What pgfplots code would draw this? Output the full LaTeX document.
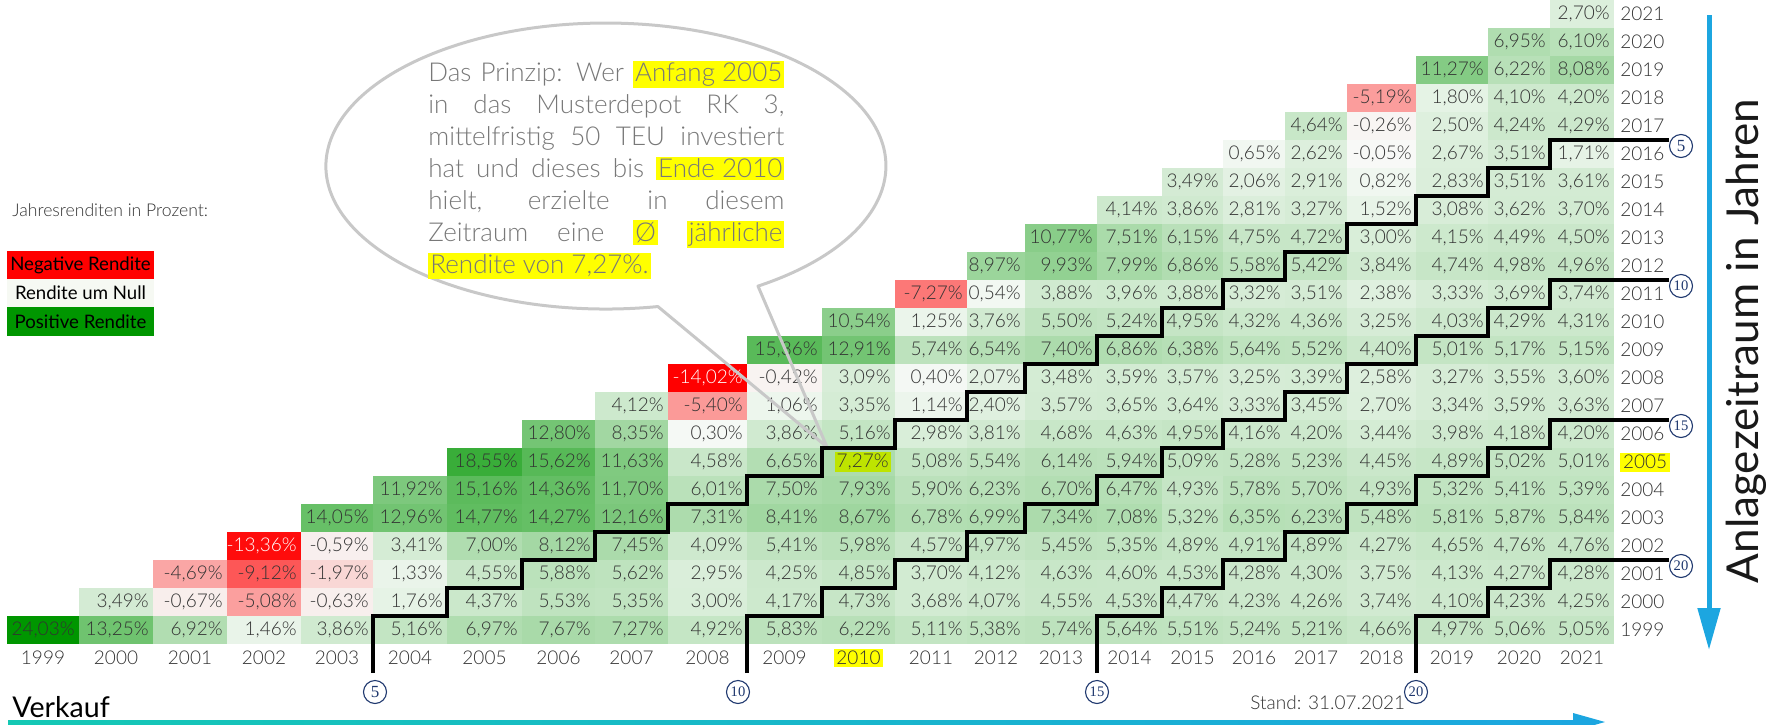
\documentclass[border=0pt]{standalone}
\usepackage{pgfplots}
\pgfplotsset{compat=1.18}
\usepackage{pgfplotstable}
\usepackage{fontspec}
\setmainfont{Lato}
\IfFontExistsTF{Lato Light}{\newfontfamily\lightfont{Lato Light}}{\newfontfamily\lightfont{Lato}}
\newfontfamily\libserif{Liberation Serif}
\usetikzlibrary{arrows.meta}
\definecolor{celltext}{RGB}{50,50,50}
\definecolor{labtext}{RGB}{50,50,50}
\definecolor{bubgray}{RGB}{200,200,200}
\definecolor{bubtext}{RGB}{120,120,120}
\definecolor{hlyellow}{RGB}{255,255,0}
\definecolor{hllime}{RGB}{190,228,0}
\definecolor{navy}{RGB}{31,56,110}
\definecolor{arrowblue}{RGB}{28,166,224}
\definecolor{teal1}{RGB}{20,200,180}
\definecolor{legred}{RGB}{255,0,0}
\definecolor{legwhite}{RGB}{246,249,243}
\definecolor{leggreen}{RGB}{0,150,0}
\definecolor{cmid}{RGB}{248,250,248}
\definecolor{cgreen}{RGB}{0,150,0}

% rows = year of purchase (B); columns s0..s22 = year of sale 1999..2021
\pgfplotstableread{
B s0 s1 s2 s3 s4 s5 s6 s7 s8 s9 s10 s11 s12 s13 s14 s15 s16 s17 s18 s19 s20 s21 s22
1999 24.03 13.25 6.92 1.46 3.86 5.16 6.97 7.67 7.27 4.92 5.83 6.22 5.11 5.38 5.74 5.64 5.51 5.24 5.21 4.66 4.97 5.06 5.05
2000 nan 3.49 -0.67 -5.08 -0.63 1.76 4.37 5.53 5.35 3.00 4.17 4.73 3.68 4.07 4.55 4.53 4.47 4.23 4.26 3.74 4.10 4.23 4.25
2001 nan nan -4.69 -9.12 -1.97 1.33 4.55 5.88 5.62 2.95 4.25 4.85 3.70 4.12 4.63 4.60 4.53 4.28 4.30 3.75 4.13 4.27 4.28
2002 nan nan nan -13.36 -0.59 3.41 7.00 8.12 7.45 4.09 5.41 5.98 4.57 4.97 5.45 5.35 4.89 4.91 4.89 4.27 4.65 4.76 4.76
2003 nan nan nan nan 14.05 12.96 14.77 14.27 12.16 7.31 8.41 8.67 6.78 6.99 7.34 7.08 5.32 6.35 6.23 5.48 5.81 5.87 5.84
2004 nan nan nan nan nan 11.92 15.16 14.36 11.70 6.01 7.50 7.93 5.90 6.23 6.70 6.47 4.93 5.78 5.70 4.93 5.32 5.41 5.39
2005 nan nan nan nan nan nan 18.55 15.62 11.63 4.58 6.65 7.27 5.08 5.54 6.14 5.94 5.09 5.28 5.23 4.45 4.89 5.02 5.01
2006 nan nan nan nan nan nan nan 12.80 8.35 0.30 3.86 5.16 2.98 3.81 4.68 4.63 4.95 4.16 4.20 3.44 3.98 4.18 4.20
2007 nan nan nan nan nan nan nan nan 4.12 -5.40 1.06 3.35 1.14 2.40 3.57 3.65 3.64 3.33 3.45 2.70 3.34 3.59 3.63
2008 nan nan nan nan nan nan nan nan nan -14.02 -0.42 3.09 0.40 2.07 3.48 3.59 3.57 3.25 3.39 2.58 3.27 3.55 3.60
2009 nan nan nan nan nan nan nan nan nan nan 15.36 12.91 5.74 6.54 7.40 6.86 6.38 5.64 5.52 4.40 5.01 5.17 5.15
2010 nan nan nan nan nan nan nan nan nan nan nan 10.54 1.25 3.76 5.50 5.24 4.95 4.32 4.36 3.25 4.03 4.29 4.31
2011 nan nan nan nan nan nan nan nan nan nan nan nan -7.27 0.54 3.88 3.96 3.88 3.32 3.51 2.38 3.33 3.69 3.74
2012 nan nan nan nan nan nan nan nan nan nan nan nan nan 8.97 9.93 7.99 6.86 5.58 5.42 3.84 4.74 4.98 4.96
2013 nan nan nan nan nan nan nan nan nan nan nan nan nan nan 10.77 7.51 6.15 4.75 4.72 3.00 4.15 4.49 4.50
2014 nan nan nan nan nan nan nan nan nan nan nan nan nan nan nan 4.14 3.86 2.81 3.27 1.52 3.08 3.62 3.70
2015 nan nan nan nan nan nan nan nan nan nan nan nan nan nan nan nan 3.49 2.06 2.91 0.82 2.83 3.51 3.61
2016 nan nan nan nan nan nan nan nan nan nan nan nan nan nan nan nan nan 0.65 2.62 -0.05 2.67 3.51 1.71
2017 nan nan nan nan nan nan nan nan nan nan nan nan nan nan nan nan nan nan 4.64 -0.26 2.50 4.24 4.29
2018 nan nan nan nan nan nan nan nan nan nan nan nan nan nan nan nan nan nan nan -5.19 1.80 4.10 4.20
2019 nan nan nan nan nan nan nan nan nan nan nan nan nan nan nan nan nan nan nan nan 11.27 6.22 8.08
2020 nan nan nan nan nan nan nan nan nan nan nan nan nan nan nan nan nan nan nan nan nan 6.95 6.10
2021 nan nan nan nan nan nan nan nan nan nan nan nan nan nan nan nan nan nan nan nan nan nan 2.70
}\returns

% cell: half width = mark size, height 14pt; colour: red (-14.02) - near white (0) - green (24.03)
\makeatletter
\pgfdeclareplotmark{cellbox}{%
  \pgfmathprintnumberto[fixed,fixed zerofill,precision=2,use period,1000 sep={},assume math mode=true]{\pgfplotspointmeta}{\mv}%
  \ifdim\mv pt<0pt
    \dimen@=-\mv pt\relax
    \dimen@=\dimexpr\dimen@*10000/1402\relax
    \ifdim\dimen@>100pt \dimen@=100pt\fi
    \edef\pp{\strip@pt\dimen@}%
    \colorlet{cellc}{legred!\pp!cmid}%
  \else
    \dimen@=\mv pt\relax
    \dimen@=\dimexpr\dimen@*10000/2403\relax
    \ifdim\dimen@>100pt \dimen@=100pt\fi
    \edef\pp{\strip@pt\dimen@}%
    \colorlet{cellc}{cgreen!\pp!cmid}%
  \fi
  \pgfsetfillcolor{cellc}%
  \pgfpathrectangle{\pgfpoint{-\pgfplotmarksize-0.2pt}{-7.2pt}}{\pgfpoint{2\pgfplotmarksize+0.4pt}{14.4pt}}%
  \pgfusepathqfill}
\makeatother

\newcommand{\fmtv}{\pgfmathprintnumber[fixed,fixed zerofill,precision=2,use comma,assume math mode=true]{\val}\%}
\newcommand{\cellnum}[1]{%
  \pgfmathprintnumberto[fixed,fixed zerofill,precision=2,use period,1000 sep={},assume math mode=true]{\pgfplotspointmeta}{\val}%
  \ifdim\val pt<-12pt\relax
    \textcolor{white}{\fmtv}%
  \else
    \ifdim\val pt=7.27pt\relax
      \ifnum#1=2010\relax
        {\setlength{\fboxsep}{1pt}\colorbox{hllime}{\fmtv}}%
      \else\fmtv\fi
    \else\fmtv\fi
  \fi}
\newcommand{\hl}[1]{{\setlength{\fboxsep}{1pt}\colorbox{hlyellow}{#1}}}
\newcommand{\hlt}[1]{{\setlength{\fboxsep}{1.3pt}\colorbox{hlyellow}{#1}}}
\newcommand{\circnum}[3]{\node[circle, draw=navy, line width=0.55pt, inner sep=0pt, minimum size=11.5pt, text=navy, font=\libserif\fontsize{#3}{#3}\selectfont] at (#1) {#2};}

\pgfplotsset{
  cellplot/.style 2 args={
    scatter, only marks, mark=cellbox, mark size=#1pt, point meta=explicit,
    scatter/use mapped color={draw=none},
    nodes near coords={\cellnum{#2}},
    every node near coord/.append style={anchor=east, xshift=#1pt-2pt, inner sep=0pt,
      font=\lightfont\fontsize{9.5}{10}\selectfont, text=celltext},
  },
  stair/.style={const plot, mark=none, line width=2pt, black, on layer=axis foreground},
}

\begin{document}
\begin{tikzpicture}
\begin{axis}[
  at={(0,0)}, anchor=north west,
  set layers,
  scale only axis, width=884.5pt, height=362pt,
  xmin=0, xmax=1769, ymin=1995.642857, ymax=2021.5,
  clip=false,
  axis line style={draw=none},
  major tick length=0pt, tick style={draw=none},
  xtick={43,116,190,264,337,410,484.5,558.5,631.5,707.5,784.5,858.5,931,996,1061,1129.5,1192.5,1254,1316,1381.5,1452,1519,1582},
  xticklabels={1999,2000,2001,2002,2003,2004,2005,2006,2007,2008,2009,{\hlt{2010}},2011,2012,2013,2014,2015,2016,2017,2018,2019,2020,2021},
  ytick={1999,...,2021},
  yticklabels={1999,2000,2001,2002,2003,2004,{\hlt{2005}},2006,2007,2008,2009,2010,2011,2012,2013,2014,2015,2016,2017,2018,2019,2020,2021},
  yticklabel pos=right,
  xticklabel style={anchor=center, yshift=33pt, inner sep=0pt},
  yticklabel style={anchor=west, xshift=-74.5pt, inner sep=0pt},
  tick label style={font=\lightfont\fontsize{9.5}{10}\selectfont, text=labtext},
  point meta min=-14.02, point meta max=24.03,
]
% one column per year of sale: half width (pt), year of sale
\addplot[cellplot={18}{1999},    skip coords between index={1}{23}]  table[x expr=43,     y=B, meta=s0]  {\returns};
\addplot[cellplot={18.5}{2000},  skip coords between index={2}{23}]  table[x expr=116,    y=B, meta=s1]  {\returns};
\addplot[cellplot={18.5}{2001},  skip coords between index={3}{23}]  table[x expr=190,    y=B, meta=s2]  {\returns};
\addplot[cellplot={18.5}{2002},  skip coords between index={4}{23}]  table[x expr=264,    y=B, meta=s3]  {\returns};
\addplot[cellplot={18}{2003},    skip coords between index={5}{23}]  table[x expr=337,    y=B, meta=s4]  {\returns};
\addplot[cellplot={18.5}{2004},  skip coords between index={6}{23}]  table[x expr=410,    y=B, meta=s5]  {\returns};
\addplot[cellplot={18.75}{2005}, skip coords between index={7}{23}]  table[x expr=484.5,  y=B, meta=s6]  {\returns};
\addplot[cellplot={18.25}{2006}, skip coords between index={8}{23}]  table[x expr=558.5,  y=B, meta=s7]  {\returns};
\addplot[cellplot={18.25}{2007}, skip coords between index={9}{23}]  table[x expr=631.5,  y=B, meta=s8]  {\returns};
\addplot[cellplot={19.75}{2008}, skip coords between index={10}{23}] table[x expr=707.5,  y=B, meta=s9]  {\returns};
\addplot[cellplot={18.75}{2009}, skip coords between index={11}{23}] table[x expr=784.5,  y=B, meta=s10] {\returns};
\addplot[cellplot={18.25}{2010}, skip coords between index={12}{23}] table[x expr=858.5,  y=B, meta=s11] {\returns};
\addplot[cellplot={18}{2011},    skip coords between index={13}{23}] table[x expr=931,    y=B, meta=s12] {\returns};
\addplot[cellplot={14.5}{2012},  skip coords between index={14}{23}] table[x expr=996,    y=B, meta=s13] {\returns};
\addplot[cellplot={18}{2013},    skip coords between index={15}{23}] table[x expr=1061,   y=B, meta=s14] {\returns};
\addplot[cellplot={16.25}{2014}, skip coords between index={16}{23}] table[x expr=1129.5, y=B, meta=s15] {\returns};
\addplot[cellplot={15.25}{2015}, skip coords between index={17}{23}] table[x expr=1192.5, y=B, meta=s16] {\returns};
\addplot[cellplot={15.5}{2016},  skip coords between index={18}{23}] table[x expr=1254,   y=B, meta=s17] {\returns};
\addplot[cellplot={15.5}{2017},  skip coords between index={19}{23}] table[x expr=1316,   y=B, meta=s18] {\returns};
\addplot[cellplot={17.25}{2018}, skip coords between index={20}{23}] table[x expr=1381.5, y=B, meta=s19] {\returns};
\addplot[cellplot={18}{2019},    skip coords between index={21}{23}] table[x expr=1452,   y=B, meta=s20] {\returns};
\addplot[cellplot={15.5}{2020},  skip coords between index={22}{23}] table[x expr=1519,   y=B, meta=s21] {\returns};
\addplot[cellplot={16}{2021},    skip coords between index={23}{23}] table[x expr=1582,   y=B, meta=s22] {\returns};
% holding period borders: 5, 10, 15, 20 years
\addplot[stair] coordinates {(373,1997.464) (373,1999.5) (447,2000.5) (522,2001.5) (595,2002.5) (668,2003.5) (747,2004.5) (822,2005.5) (895,2006.5) (967,2007.5) (1025,2008.5) (1097,2009.5) (1162,2010.5) (1223,2011.5) (1285,2012.5) (1347,2013.5) (1416,2014.5) (1488,2015.5) (1550,2016.5) (1669,2016.5)};
\addplot[stair] coordinates {(747,1997.464) (747,1999.5) (822,2000.5) (895,2001.5) (967,2002.5) (1025,2003.5) (1097,2004.5) (1162,2005.5) (1223,2006.5) (1285,2007.5) (1347,2008.5) (1416,2009.5) (1488,2010.5) (1550,2011.5) (1669,2011.5)};
\addplot[stair] coordinates {(1097,1997.464) (1097,1999.5) (1162,2000.5) (1223,2001.5) (1285,2002.5) (1347,2003.5) (1416,2004.5) (1488,2005.5) (1550,2006.5) (1669,2006.5)};
\addplot[stair] coordinates {(1416,1997.464) (1416,1999.5) (1488,2000.5) (1550,2001.5) (1669,2001.5)};
\end{axis}

\begin{scope}[x=0.5pt, y=-0.5pt]
% legend
\node[anchor=west, inner sep=0pt, font=\lightfont\fontsize{8.8}{10}\selectfont, text=labtext] at (12,210) {Jahresrenditen in Prozent:};
\fill[legred] (7,251) rectangle (154,279);
\fill[legwhite] (7,279) rectangle (154,307);
\fill[leggreen] (7,307) rectangle (154,336);
\node[font=\fontsize{9.3}{10}\selectfont] at (80.5,265) {Negative Rendite};
\node[font=\fontsize{9.3}{10}\selectfont] at (80.5,293) {Rendite um Null};
\node[font=\fontsize{9.3}{10}\selectfont] at (80.5,321.5) {Positive Rendite};
% speech bubble
\draw[bubgray, line width=1.5pt, line join=round] (758,286.1) arc[start angle=57.1, end angle=-280.7, x radius=280, y radius=143] -- (827,447) -- cycle;
\begin{scope}[every node/.style={anchor=base west, inner sep=0pt, font=\lightfont\fontsize{13}{16}\selectfont, text=bubtext}]
\node at (428,81.5) {\makebox[178pt][s]{Das Prinzip: Wer \hl{Anfang 2005}}};
\node at (428,113.5) {\makebox[178pt][s]{in das Musterdepot RK 3,}};
\node at (428,145.5) {\makebox[178pt][s]{mittelfristig 50 TEU investiert}};
\node at (428,177.5) {\makebox[178pt][s]{hat und dieses bis \hl{Ende 2010}}};
\node at (428,209.5) {\makebox[178pt][s]{hielt, erzielte in diesem}};
\node at (428,241.5) {\makebox[178pt][s]{Zeitraum eine \hl{Ø} \hl{jährliche}}};
\node at (428,273.5) {\hl{Rendite von 7,27\%.}};
\end{scope}
% circled period markers
\circnum{375,692}{5}{8.5}
\circnum{738,692}{\kern-0.3pt 10\kern-0.3pt}{7.3}
\circnum{1097,692}{\kern-0.3pt 15\kern-0.3pt}{7.3}
\circnum{1416,692}{\kern-0.3pt 20\kern-0.3pt}{7.3}
\circnum{1681,146}{5}{8.5}
\circnum{1681,286}{\kern-0.3pt 10\kern-0.3pt}{7.3}
\circnum{1681,426}{\kern-0.3pt 15\kern-0.3pt}{7.3}
\circnum{1681,566}{\kern-0.3pt 20\kern-0.3pt}{7.3}
% right axis title and arrow
\draw[arrowblue, line width=2.5pt, -{Triangle[length=21pt,width=11pt]}] (1709,15) -- (1709,650);
\node[rotate=90, font=\fontsize{22}{22}\selectfont, text=black!90] at (1746,341) {Anlagezeitraum in Jahren};
% bottom
\node[anchor=base west, inner sep=0pt, font=\fontsize{14.3}{15}\selectfont] at (12,717) {Verkauf};
\node[anchor=base west, inner sep=0pt, font=\lightfont\fontsize{9.5}{10}\selectfont, text=labtext] at (1250,709) {Stand: 31.07.2021};
\shade[left color=teal1, right color=arrowblue] (8,720.5) rectangle (1585,724);
\fill[arrowblue] (1573,713) -- (1605,722) -- (1573,731) -- cycle;
\pgfresetboundingbox
\path[use as bounding box] (0,0) rectangle (1769,724);
\end{scope}
\end{tikzpicture}
\end{document}
